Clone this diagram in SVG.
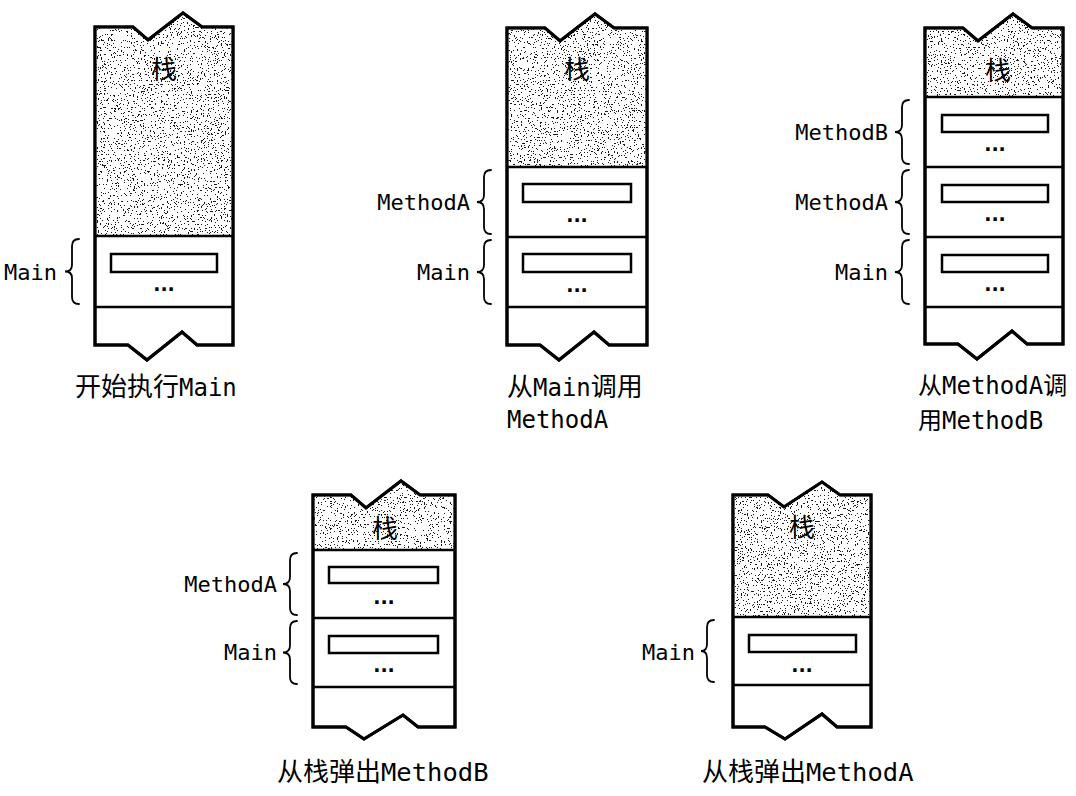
<svg xmlns="http://www.w3.org/2000/svg" width="1076" height="796" viewBox="0 0 1076 796">
<style>
.outline{fill:#fff;stroke:#000;stroke-width:3;stroke-linejoin:miter}
.stip{fill:#fff;filter:url(#speckle)}
.sep{fill:none;stroke:#000;stroke-width:2.5}
.slot{fill:#fff;stroke:#000;stroke-width:2.5}
.brace{fill:none;stroke:#000;stroke-width:1.8;stroke-linecap:round}
.lbl{font-family:"DejaVu Sans Mono","Liberation Mono","Noto Sans CJK SC",monospace;font-size:22px;fill:#000;text-anchor:end}
.dots{font-family:"DejaVu Sans",sans-serif;font-weight:bold;font-size:19px;fill:#000;text-anchor:middle}
.zhan{font-family:"Noto Sans CJK SC","Noto Sans CJK TC",sans-serif;font-size:26px;fill:#000;text-anchor:middle}
.cap{font-family:"DejaVu Sans Mono","Liberation Mono","Noto Sans CJK SC",monospace;font-size:24px;fill:#000}
.cap2{font-family:"DejaVu Sans Mono","Liberation Mono","Noto Sans CJK SC",monospace;font-size:25.5px;fill:#000}
.cjk{font-family:"Noto Sans CJK SC","Noto Sans CJK TC",sans-serif;font-size:26px}
.cjks{font-family:"Noto Sans CJK SC","Noto Sans CJK TC",sans-serif;font-size:24px}
</style>
<defs>
<filter id="speckle" x="0" y="0" width="1" height="1" color-interpolation-filters="sRGB">
<feFlood flood-color="#fff" result="bg"/>
<feTurbulence type="fractalNoise" baseFrequency="0.7" numOctaves="2" seed="7" result="n"/>
<feColorMatrix in="n" type="matrix" values="0 0 0 0 0.1  0 0 0 0 0.1  0 0 0 0 0.1  1 0 0 0 0" result="a"/>
<feComponentTransfer in="a" result="dotsA"><feFuncA type="discrete" tableValues="0 0 0 0 0 0 0 0 0 0 0 0 0 1 1 1 1 1 1 1"/></feComponentTransfer>
<feMerge result="m"><feMergeNode in="bg"/><feMergeNode in="dotsA"/></feMerge>
<feComposite in="m" in2="SourceGraphic" operator="in"/>
</filter>
</defs>
<rect width="1076" height="796" fill="#fff"/>

<g id="connectors"></g>

<g id="stack1">
<path class="outline" d="M95,27 H133 L148,40 L183,13 L202,27 H233 V345 H197 L182,332 L147,360 L128,345 H95 Z"/>
<path class="stip" d="M96.5,28.5 H133 L148,41.5 L183,14.5 L202,28.5 H231.5 V236 H96.5 Z"/>
<path class="outline" style="fill:none" d="M95,27 H133 L148,40 L183,13 L202,27 H233 V345 H197 L182,332 L147,360 L128,345 H95 Z"/>
<path class="sep" d="M95,236 H233 M95,307 H233"/>
<rect class="slot" x="111" y="254" width="106" height="18"/>
<text class="dots" x="164" y="291">...</text>
<text class="zhan" x="164" y="79">栈</text>
<text class="lbl" x="57" y="280">Main</text>
<path class="brace" d="M79,239 Q72,239 72,246 V265 Q72,271.5 65,271.5 Q72,271.5 72,278 V297 Q72,304 79,304"/>
<text class="cap" x="75" y="396"><tspan class="cjk">开始执行</tspan>Main</text>
</g>

<g id="stack2">
<path class="outline" d="M507,28 H545 L560,41 L595,14 L614,28 H647 V345 H609 L594,332 L559,360 L540,345 H507 Z"/>
<path class="stip" d="M508.5,29.5 H545 L560,42.5 L595,15.5 L614,29.5 H645.5 V167 H508.5 Z"/>
<path class="outline" style="fill:none" d="M507,28 H545 L560,41 L595,14 L614,28 H647 V345 H609 L594,332 L559,360 L540,345 H507 Z"/>
<path class="sep" d="M507,167 H647 M507,237 H647 M507,307 H647"/>
<rect class="slot" x="523" y="184" width="108" height="18"/>
<rect class="slot" x="523" y="254" width="108" height="18"/>
<text class="dots" x="577" y="222">...</text>
<text class="dots" x="577" y="292">...</text>
<text class="zhan" x="577" y="79">栈</text>
<text class="lbl" x="470" y="210">MethodA</text>
<text class="lbl" x="470" y="280">Main</text>
<path class="brace" d="M491,170 Q484,170 484,177 V195 Q484,202 477,202 Q484,202 484,209 V227 Q484,234 491,234"/>
<path class="brace" d="M491,240 Q484,240 484,247 V265 Q484,272 477,272 Q484,272 484,279 V297 Q484,304 491,304"/>
<text class="cap" x="507" y="396"><tspan class="cjk">从</tspan>Main<tspan class="cjk">调用</tspan></text>
<text class="cap" x="507" y="428">MethodA</text>
</g>

<g id="stack3">
<path class="outline" d="M925,28 H963 L978,41 L1013,14 L1032,28 H1063 V344 H1027 L1012,331 L977,359 L958,344 H925 Z"/>
<path class="stip" d="M926.5,29.5 H963 L978,42.5 L1013,15.5 L1032,29.5 H1061.5 V97 H926.5 Z"/>
<path class="outline" style="fill:none" d="M925,28 H963 L978,41 L1013,14 L1032,28 H1063 V344 H1027 L1012,331 L977,359 L958,344 H925 Z"/>
<path class="sep" d="M925,97 H1063 M925,167 H1063 M925,237 H1063 M925,307 H1063"/>
<rect class="slot" x="942" y="115" width="106" height="17"/>
<rect class="slot" x="942" y="185" width="106" height="17"/>
<rect class="slot" x="942" y="255" width="106" height="17"/>
<text class="dots" x="995" y="151">...</text>
<text class="dots" x="995" y="221">...</text>
<text class="dots" x="995" y="291">...</text>
<text class="zhan" x="998" y="80">栈</text>
<text class="lbl" x="888" y="140">MethodB</text>
<text class="lbl" x="888" y="210">MethodA</text>
<text class="lbl" x="888" y="280">Main</text>
<path class="brace" d="M909,100 Q902,100 902,107 V125 Q902,132 895,132 Q902,132 902,139 V157 Q902,164 909,164"/>
<path class="brace" d="M909,170 Q902,170 902,177 V195 Q902,202 895,202 Q902,202 902,209 V227 Q902,234 909,234"/>
<path class="brace" d="M909,240 Q902,240 902,247 V265 Q902,272 895,272 Q902,272 902,279 V297 Q902,304 909,304"/>
<text class="cap" x="918" y="394"><tspan class="cjks">从</tspan>MethodA<tspan class="cjks">调</tspan></text>
<text class="cap" x="918" y="429"><tspan class="cjks">用</tspan>MethodB</text>
</g>

<g id="stack4">
<path class="outline" d="M313,495 H351 L366,508 L401,481 L420,495 H455 V727 H418 L403,715 L364,739 L346,727 H313 Z"/>
<path class="stip" d="M314.5,496.5 H351 L366,509.5 L401,482.5 L420,496.5 H453.5 V550 H314.5 Z"/>
<path class="outline" style="fill:none" d="M313,495 H351 L366,508 L401,481 L420,495 H455 V727 H418 L403,715 L364,739 L346,727 H313 Z"/>
<path class="sep" d="M313,550 H455 M313,618 H455 M313,687 H455"/>
<rect class="slot" x="329" y="567" width="109" height="16"/>
<rect class="slot" x="329" y="636" width="109" height="17"/>
<text class="dots" x="384" y="604">...</text>
<text class="dots" x="384" y="672">...</text>
<text class="zhan" x="385" y="538">栈</text>
<text class="lbl" x="277" y="592">MethodA</text>
<text class="lbl" x="277" y="660">Main</text>
<path class="brace" d="M297,553 Q290,553 290,560 V577 Q290,584 283,584 Q290,584 290,591 V608 Q290,615 297,615"/>
<path class="brace" d="M297,621 Q290,621 290,628 V645.5 Q290,652.5 283,652.5 Q290,652.5 290,659.5 V677 Q290,684 297,684"/>
<text class="cap2" x="277" y="781"><tspan class="cjk">从栈弹出</tspan>MethodB</text>
</g>

<g id="stack5">
<path class="outline" d="M733,495 H768 L784,507 L822,482 L840,495 H871 V727 H837 L822,714 L785,739 L765,727 H733 Z"/>
<path class="stip" d="M734.5,496.5 H768 L784,508.5 L822,483.5 L840,496.5 H869.5 V617 H734.5 Z"/>
<path class="outline" style="fill:none" d="M733,495 H768 L784,507 L822,482 L840,495 H871 V727 H837 L822,714 L785,739 L765,727 H733 Z"/>
<path class="sep" d="M733,617 H871 M733,685 H871"/>
<rect class="slot" x="749" y="635" width="107" height="17"/>
<text class="dots" x="802" y="672">...</text>
<text class="zhan" x="802" y="537">栈</text>
<text class="lbl" x="695" y="660">Main</text>
<path class="brace" d="M714,620 Q707,620 707,627 V644 Q707,651 701,651 Q707,651 707,658 V675 Q707,682 714,682"/>
<text class="cap2" x="702" y="781"><tspan class="cjk">从栈弹出</tspan>MethodA</text>
</g>
</svg>
